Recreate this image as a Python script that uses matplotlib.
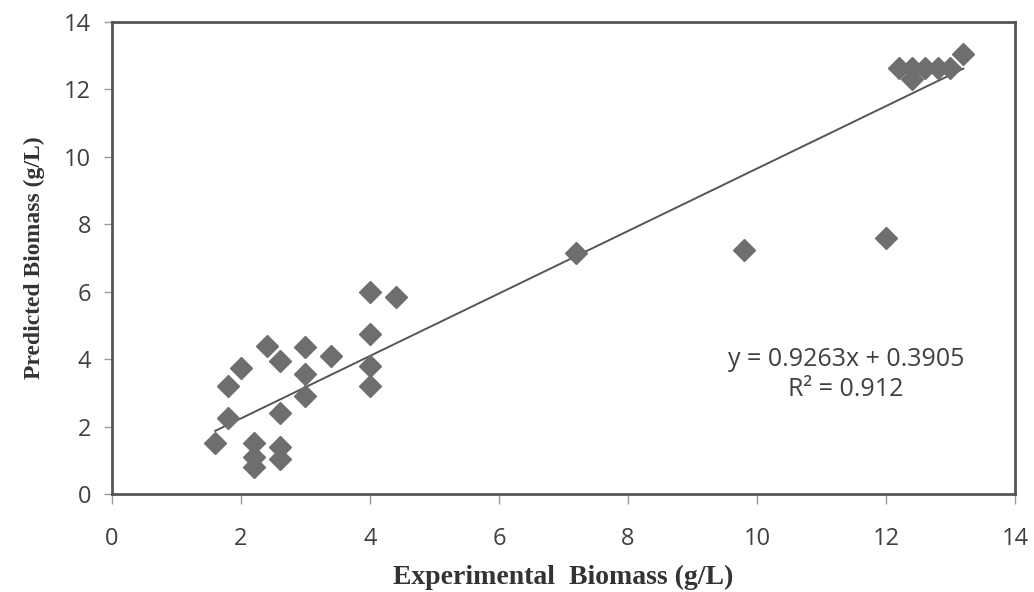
import matplotlib
matplotlib.use("Agg")
import matplotlib.pyplot as plt
import numpy as np

exp_biomass = [1.6, 1.8, 1.8, 2.0, 2.2, 2.2, 2.2, 2.4, 2.6, 2.6, 2.6, 2.6,
               3.0, 3.0, 3.0, 3.4, 4.0, 4.0, 4.0, 4.0, 4.4, 7.2, 9.8, 12.0,
               12.2, 12.4, 12.4, 12.6, 12.8, 13.0, 13.2]
pred_biomass = [1.5, 3.2, 2.25, 3.75, 1.5, 1.1, 0.8, 4.4, 3.95, 2.4, 1.4, 1.05,
                4.35, 3.55, 2.9, 4.1, 6.0, 4.75, 3.8, 3.2, 5.85, 7.15, 7.25, 7.6,
                12.65, 12.3, 12.65, 12.65, 12.65, 12.65, 13.05]
slope, intercept = 0.9263, 0.3905
r2 = 0.912
x_ticks = [0, 2, 4, 6, 8, 10, 12, 14]
y_ticks = [0, 2, 4, 6, 8, 10, 12, 14]

fig = plt.figure(figsize=(10.34, 5.92), dpi=100)
ax = fig.add_axes([0.1083, 0.1655, 0.8733, 0.7973])

ax.plot(exp_biomass, pred_biomass, linestyle='none', marker='D', markersize=11,
        color='#6e6e6e', markeredgecolor='#6e6e6e', zorder=3)
xl = np.array([min(exp_biomass), max(exp_biomass)])
ax.plot(xl, slope * xl + intercept, color='#555555', lw=1.4, zorder=2)

ax.set_xlim(0, 14)
ax.set_ylim(0, 14)
ax.set_xticks(x_ticks)
ax.set_yticks(y_ticks)
tick_font = dict(family='Open Sans', size=17, color='#404040')
ax.set_xticklabels([str(t) for t in x_ticks], **tick_font)
ax.set_yticklabels([str(t) for t in y_ticks], **tick_font)
ax.tick_params(axis='x', direction='out', length=7, width=1, color='#999999', pad=17)
ax.tick_params(axis='y', direction='out', length=6, width=1, color='#999999', pad=9)
for s in ax.spines.values():
    s.set_color('#555555')
    s.set_linewidth(2)

ax.set_xlabel('Experimental  Biomass (g/L)', labelpad=10, family='Liberation Serif',
              weight='bold', size=20, color='#333333')
ax.set_ylabel('Predicted Biomass (g/L)', labelpad=14, family='Liberation Serif',
              weight='bold', size=17, color='#333333')

ax.text(0.813, 0.254, f'y = {slope}x + {intercept}\nR² = {r2}', transform=ax.transAxes,
        ha='center', va='center', family='Open Sans', size=18, color='#404040',
        linespacing=1.25)

fig.savefig('out.png', dpi=100)
